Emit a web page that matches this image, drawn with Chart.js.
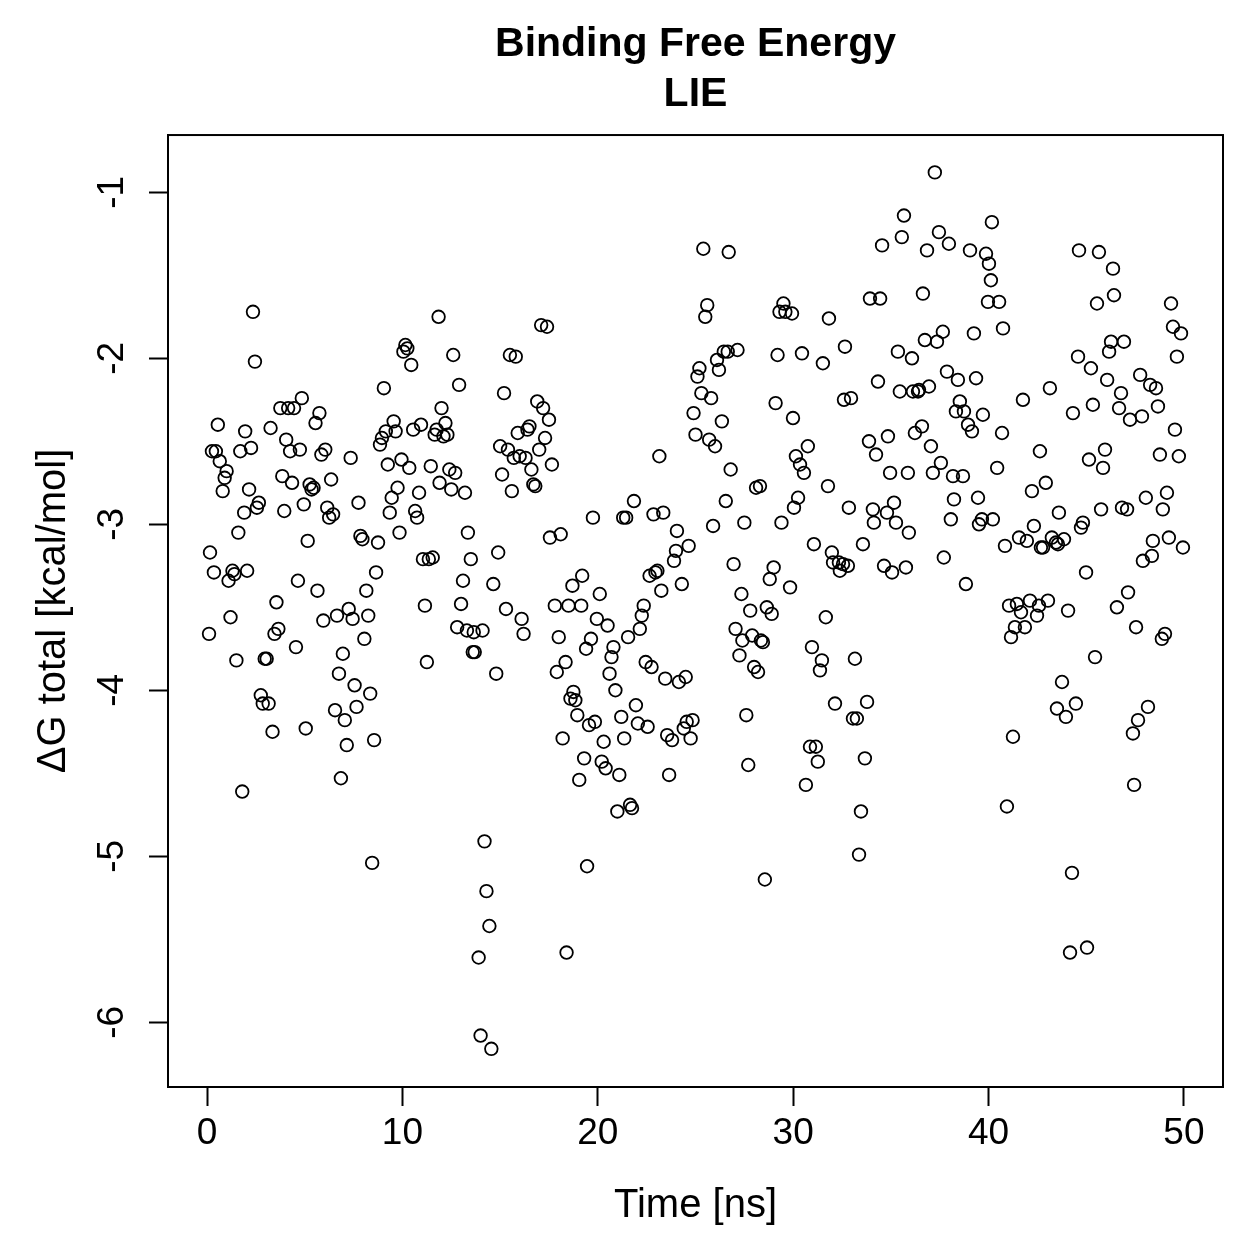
<!DOCTYPE html>
<html>
<head>
<meta charset="utf-8">
<script src="https://cdn.jsdelivr.net/npm/chart.js@4/dist/chart.umd.min.js"></script>
<style>
  html, body { margin: 0; padding: 0; background: #fff; }
  #wrap { width: 1259px; height: 1259px; }
</style>
</head>
<body>
<div id="wrap"><canvas id="lieChart" width="1259" height="1259"></canvas></div>
<script>
// simulation time (ns) and LIE binding free energy (kcal/mol)
const timeNs = [
  0.1,0.15,0.25,0.35,0.45,0.55,0.65,0.8,0.9,1.0,
  1.1,1.2,1.3,1.4,1.5,1.6,1.7,1.8,1.9,1.95,
  2.05,2.15,2.25,2.35,2.45,2.55,2.65,2.75,2.85,2.95,
  3.05,3.15,3.25,3.35,3.45,3.55,3.65,3.75,3.85,3.95,
  4.05,4.15,4.25,4.35,4.45,4.55,4.65,4.75,4.85,4.95,
  5.05,5.15,5.25,5.35,5.45,5.55,5.65,5.75,5.85,5.95,
  6.05,6.15,6.25,6.35,6.45,6.55,6.65,6.75,6.85,6.95,
  7.05,7.15,7.25,7.35,7.45,7.55,7.65,7.75,7.85,7.95,
  8.05,8.15,8.25,8.35,8.45,8.55,8.65,8.75,8.85,8.95,
  9.05,9.15,9.25,9.35,9.45,9.55,9.65,9.75,9.85,9.95,
  10.05,10.15,10.25,10.35,10.45,10.55,10.65,10.75,10.85,10.95,
  11.05,11.15,11.25,11.35,11.45,11.55,11.65,11.75,11.85,11.9,
  12.0,12.1,12.2,12.3,12.4,12.5,12.6,12.7,12.8,12.9,
  13.0,13.1,13.2,13.3,13.35,13.5,13.6,13.65,13.7,13.9,
  14.0,14.1,14.2,14.3,14.45,14.55,14.65,14.8,14.9,15.0,
  15.1,15.2,15.3,15.4,15.5,15.6,15.7,15.8,15.9,16.0,
  16.1,16.2,16.3,16.4,16.5,16.6,16.7,16.8,16.9,17.0,
  17.1,17.2,17.3,17.4,17.5,17.55,17.65,17.8,17.9,18.0,
  18.1,18.2,18.35,18.4,18.5,18.6,18.7,18.75,18.85,18.95,
  19.05,19.15,19.2,19.3,19.4,19.45,19.55,19.65,19.75,19.85,
  19.95,
  20.1,20.2,20.3,20.4,20.5,20.6,20.7,20.8,20.9,21.0,
  21.1,21.2,21.3,21.35,21.45,21.55,21.65,21.75,21.85,21.95,
  22.05,22.15,22.25,22.35,22.45,22.55,22.65,22.75,22.85,22.95,
  23.05,23.15,23.25,23.35,23.45,23.55,23.65,23.8,23.9,24.0,
  24.05,24.15,24.3,24.4,24.5,24.55,24.65,24.75,24.85,24.9,
  25.0,25.1,25.2,25.3,25.4,25.5,25.6,25.7,25.8,25.9,
  26.0,26.1,26.2,26.35,26.45,26.55,26.65,26.7,26.8,26.95,
  27.05,27.15,27.25,27.35,27.4,27.5,27.6,27.7,27.8,27.9,
  28.0,28.1,28.2,28.3,28.35,28.45,28.55,28.65,28.8,28.9,
  29.0,29.1,29.2,29.3,29.4,29.5,29.6,
  29.84,29.94,29.99,30.04,30.14,30.25,30.35,30.45,30.55,30.65,
  30.75,30.86,30.96,31.06,31.16,31.26,31.37,31.47,31.52,31.67,
  31.78,31.83,31.98,32.04,32.14,32.34,32.39,32.55,32.6,32.65,
  32.8,32.85,32.96,33.06,33.16,33.26,33.37,33.47,33.57,33.67,
  33.78,33.88,33.93,34.08,34.13,34.24,34.34,34.45,34.55,34.65,
  34.8,34.85,34.96,35.06,35.16,35.26,35.36,35.46,35.56,35.67,
  35.77,35.87,35.92,36.08,36.13,36.23,36.39,36.44,36.59,36.64,
  36.74,36.85,36.95,37.05,37.15,37.25,37.36,37.46,37.56,37.66,
  37.71,37.87,37.97,38.07,38.18,38.23,38.33,38.43,38.53,38.69,
  38.74,38.84,38.95,39.05,39.15,39.25,39.36,39.46,39.51,39.66,
  39.71,39.87,39.97,40.02,40.12,40.17,40.22,
  40.44,40.54,40.69,40.74,40.84,40.94,41.05,41.15,41.25,41.35,
  41.45,41.56,41.66,41.76,41.86,41.96,42.12,42.22,42.32,42.48,
  42.58,42.63,42.68,42.79,42.93,43.04,43.14,43.24,43.45,43.5,
  43.55,43.6,43.76,43.86,43.96,44.07,44.17,44.27,44.32,44.47,
  44.58,44.63,44.73,44.83,44.99,45.04,45.14,45.24,45.34,45.45,
  45.55,45.65,45.76,45.86,45.96,46.07,46.17,46.27,46.37,46.42,
  46.57,46.68,46.78,46.83,46.93,47.09,47.14,47.24,47.39,47.45,
  47.55,47.65,47.76,47.85,47.9,48.05,48.16,48.27,48.36,48.41,
  48.57,48.67,48.77,48.87,48.92,49.03,49.13,49.23,49.34,49.44,
  49.54,49.64,49.74,49.85,49.95
];

const deltaG = [
  -3.66,-3.17,-2.56,-3.29,-2.56,-2.40,-2.62,-2.80,-2.72,-2.68,
  -3.34,-3.56,-3.28,-3.30,-3.82,-3.05,-2.56,-4.61,-2.93,-2.44,
  -3.28,-2.79,-2.54,-1.72,-2.02,-2.90,-2.87,-4.03,-4.08,-3.81,
  -3.81,-4.08,-2.42,-4.25,-3.66,-3.47,-3.63,-2.30,-2.71,-2.92,
  -2.49,-2.30,-2.56,-2.75,-2.30,-3.74,-3.34,-2.55,-2.24,-2.88,
  -4.23,-3.10,-2.76,-2.79,-2.78,-2.39,-3.40,-2.33,-2.58,-3.58,
  -2.55,-2.90,-2.96,-2.73,-2.94,-4.12,-3.55,-3.90,-4.53,-3.78,
  -4.18,-4.33,-3.51,-2.60,-3.57,-3.97,-4.10,-2.87,-3.07,-3.09,
  -3.69,-3.40,-3.55,-4.02,-5.04,-4.30,-3.29,-3.11,-2.52,-2.48,
  -2.18,-2.44,-2.64,-2.93,-2.84,-2.38,-2.44,-2.78,-3.05,-2.61,
  -1.96,-1.92,-1.94,-2.66,-2.04,-2.43,-2.92,-2.96,-2.81,-2.40,
  -3.21,-3.49,-3.83,-3.21,-2.65,-3.20,-2.46,-2.43,-1.75,-2.75,
  -2.30,-2.47,-2.39,-2.46,-2.67,-2.79,-1.98,-2.69,-3.62,-2.16,
  -3.48,-3.34,-2.81,-3.64,-3.05,-3.21,-3.77,-3.65,-3.77,-5.61,
  -6.08,-3.64,-4.91,-5.21,-5.42,-6.16,-3.36,-3.90,-3.17,-2.53,
  -2.70,-2.21,-3.51,-2.55,-1.98,-2.80,-2.60,-1.99,-2.45,-2.59,
  -3.57,-3.66,-2.60,-2.43,-2.41,-2.67,-2.76,-2.77,-2.26,-2.55,
  -1.80,-2.30,-2.48,-1.81,-2.37,-3.08,-2.64,-3.49,-3.89,-3.68,
  -3.06,-4.29,-3.83,-5.58,-3.49,-4.05,-3.37,-4.01,-4.06,-4.15,
  -4.54,-3.49,-3.31,-4.41,-3.75,-5.06,-4.21,-3.69,-2.96,-4.19,
  -3.57,
  -3.42,-4.43,-4.31,-4.47,-3.61,-3.90,-3.80,-3.74,-4.00,-4.73,
  -4.51,-4.16,-2.96,-4.29,-2.96,-3.68,-4.69,-4.71,-2.86,-4.09,
  -4.20,-3.63,-3.55,-3.49,-3.83,-4.22,-3.31,-3.86,-2.94,-3.29,
  -3.28,-2.59,-3.40,-2.93,-3.93,-4.27,-4.51,-4.30,-3.22,-3.16,
  -3.04,-3.95,-3.36,-4.23,-3.92,-4.19,-3.13,-4.29,-4.18,-2.33,
  -2.46,-2.11,-2.06,-2.21,-1.34,-1.75,-1.68,-2.49,-2.24,-3.01,
  -2.53,-2.01,-2.07,-2.38,-1.96,-2.86,-1.96,-1.36,-2.67,-3.24,
  -3.63,-1.95,-3.79,-3.42,-3.70,-2.99,-4.15,-4.45,-3.52,-3.67,
  -3.86,-2.78,-3.89,-2.77,-3.70,-3.71,-5.14,-3.50,-3.33,-3.54,
  -3.26,-2.27,-1.98,-1.72,-2.99,-1.67,-1.72,
  -3.38,-1.73,-2.36,-2.90,-2.59,-2.84,-2.64,-1.97,-2.69,-4.57,
  -2.53,-4.34,-3.74,-3.12,-4.34,-4.43,-3.88,-3.82,-2.03,-3.56,
  -2.77,-1.76,-3.17,-3.23,-4.08,-3.23,-3.28,-3.24,-2.25,-1.93,
  -3.25,-2.90,-2.24,-4.17,-3.81,-4.17,-4.99,-4.73,-3.12,-4.41,
  -4.07,-2.50,-1.64,-2.91,-2.99,-2.58,-2.14,-1.64,-1.32,-3.25,
  -2.93,-2.47,-2.69,-3.29,-2.87,-2.99,-1.96,-2.20,-1.27,-1.14,
  -3.26,-2.69,-3.05,-2.00,-2.20,-2.45,-2.20,-2.19,-2.41,-1.61,
  -1.89,-1.35,-2.17,-2.53,-2.69,-0.88,-1.90,-1.24,-2.63,-1.84,
  -3.20,-2.08,-1.31,-2.97,-2.71,-2.85,-2.32,-2.13,-2.26,-2.71,
  -2.32,-3.36,-2.40,-1.35,-2.44,-1.85,-2.12,-2.84,-3.00,-2.97,
  -2.34,-1.37,-1.66,-1.43,-1.53,-1.18,-2.97,
  -2.66,-1.66,-2.45,-1.82,-3.13,-4.70,-3.49,-3.68,-4.28,-3.62,
  -3.48,-3.08,-3.53,-2.25,-3.62,-3.10,-3.46,-2.80,-3.01,-3.55,
  -3.49,-2.56,-3.14,-3.14,-2.75,-3.46,-2.18,-3.08,-3.11,-4.11,
  -3.12,-2.93,-3.95,-3.09,-4.16,-3.52,-5.58,-5.10,-2.33,-4.08,
  -1.99,-1.35,-3.02,-2.99,-3.29,-5.55,-2.61,-2.06,-2.28,-3.80,
  -1.67,-1.36,-2.91,-2.66,-2.55,-2.13,-1.96,-1.90,-1.46,-1.62,
  -3.50,-2.30,-2.21,-2.90,-1.90,-2.91,-3.41,-2.37,-4.26,-4.57,
  -3.62,-4.18,-2.10,-2.35,-3.22,-2.84,-4.10,-2.16,-3.19,-3.10,
  -2.18,-2.29,-2.58,-3.69,-2.91,-3.66,-2.81,-3.08,-1.67,-1.81,
  -2.43,-1.99,-2.59,-1.85,-3.14
];

const xTicks = [0, 10, 20, 30, 40, 50];
const yTicks = [-6, -5, -4, -3, -2, -1];

const FONT = "'Liberation Sans', Arial, Helvetica, sans-serif";

// R style box around the plot region
const boxPlugin = {
    id: "plotBox",
    afterDraw(chart) {
        const { ctx, chartArea: a } = chart;
        ctx.save();
        ctx.strokeStyle = "#000";
        ctx.lineWidth = 2;
        ctx.strokeRect(a.left, a.top, a.right - a.left, a.bottom - a.top);
        ctx.restore();
    },
};

const ctx = document.getElementById("lieChart").getContext("2d");

new Chart(ctx, {
    type: "scatter",
    data: {
        datasets: [
            {
                label: "LIE",
                data: timeNs.map((t, i) => ({ x: t, y: deltaG[i] })),
                pointStyle: "circle",
                pointRadius: 6.3,
                pointBorderWidth: 1.8,
                borderColor: "#000",
                backgroundColor: "rgba(0,0,0,0)",
                showLine: false,
            },
        ],
    },
    options: {
        responsive: false,
        animation: false,
        layout: { padding: { left: 0, right: 36, top: 0, bottom: 0 } },
        plugins: {
            legend: { display: false },
            tooltip: { enabled: false },
            title: {
                display: true,
                text: ["Binding Free Energy", "LIE"],
                color: "#000",
                fullSize: false,
                font: { family: FONT, size: 41, weight: "bold", lineHeight: 1.22 },
                padding: { top: 20, bottom: 15 },
            },
        },
        scales: {
            x: {
                type: "linear",
                min: -2,
                max: 52,
                afterBuildTicks: (scale) => {
                    scale.ticks = xTicks.map((v) => ({ value: v }));
                },
                afterFit: (scale) => {
                    scale.height = 172;
                },
                ticks: {
                    color: "#000",
                    font: { family: FONT, size: 37 },
                    padding: 6,
                    maxRotation: 0,
                    autoSkip: false,
                },
                grid: {
                    display: true,
                    drawOnChartArea: false,
                    drawTicks: true,
                    tickLength: 19,
                    tickWidth: 2,
                    tickColor: "#000",
                },
                border: { display: true, color: "#000", width: 2 },
                title: {
                    display: true,
                    text: "Time [ns]",
                    color: "#000",
                    font: { family: FONT, size: 40 },
                    padding: { top: 0, bottom: 29 },
                },
            },
            y: {
                type: "linear",
                min: -6.39,
                max: -0.655,
                afterBuildTicks: (scale) => {
                    scale.ticks = yTicks.map((v) => ({ value: v }));
                },
                afterFit: (scale) => {
                    scale.width = 168;
                },
                ticks: {
                    color: "#000",
                    font: { family: FONT, size: 37 },
                    padding: 20,
                    minRotation: 90,
                    maxRotation: 90,
                    crossAlign: "center",
                    autoSkip: false,
                },
                grid: {
                    display: true,
                    drawOnChartArea: false,
                    drawTicks: true,
                    tickLength: 19,
                    tickWidth: 2,
                    tickColor: "#000",
                },
                border: { display: true, color: "#000", width: 2 },
                title: {
                    display: true,
                    text: "ΔG total [kcal/mol]",
                    color: "#000",
                    font: { family: FONT, size: 40 },
                    padding: { top: 30, bottom: 0 },
                },
            },
        },
    },
    plugins: [boxPlugin],
});
</script>
</body>
</html>
